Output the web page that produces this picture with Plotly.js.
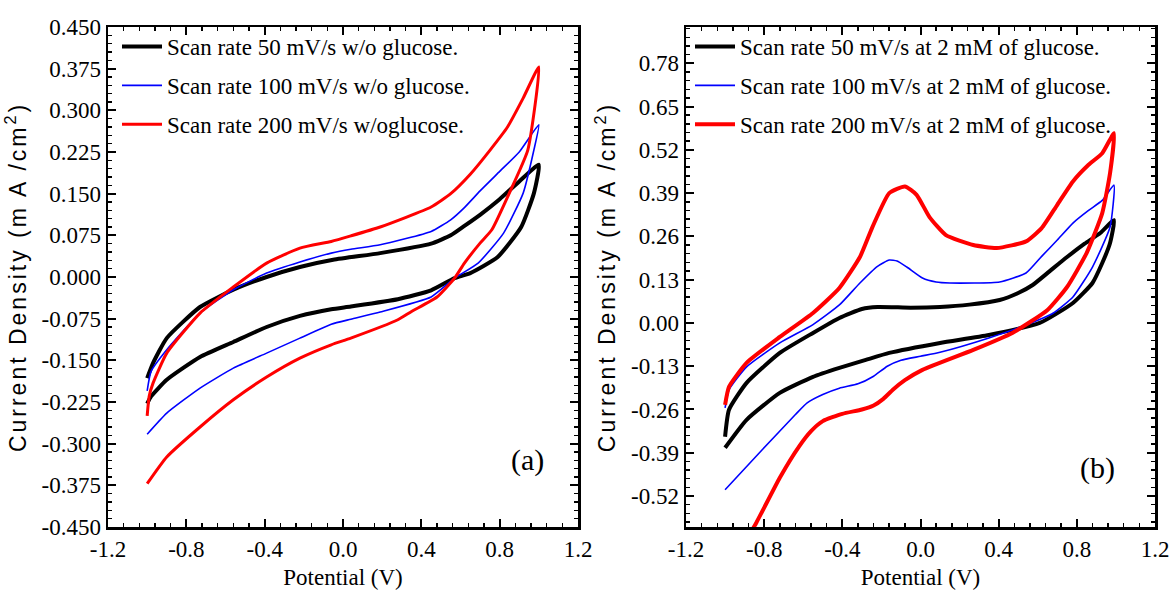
<!DOCTYPE html>
<html>
<head>
<meta charset="utf-8">
<script src="https://cdn.plot.ly/plotly-3.0.1.min.js"></script>
<style>html,body{margin:0;padding:0;background:#fff;}#chart{width:1171px;height:602px;}</style>
</head>
<body>
<div id="chart"></div>
<script>
// ---------- Panel (a): without glucose ----------
const vA50 = [-1.0,-0.97,-0.9,-0.73,-0.56,-0.39,-0.22,-0.05,0.19,0.45,0.55,0.62,0.7,0.8,0.9,1.0,
              0.975,0.91,0.79,0.65,0.57,0.45,0.28,0.04,-0.06,-0.22,-0.39,-0.56,-0.73,-0.9,-0.98,-1.0];
const iA50 = [-0.182,-0.155,-0.11,-0.054,-0.023,0.0,0.018,0.031,0.043,0.060,0.075,0.092,0.112,0.140,0.172,0.202,
              0.151,0.090,0.036,0.007,-0.002,-0.024,-0.040,-0.053,-0.058,-0.070,-0.090,-0.117,-0.144,-0.185,-0.215,-0.228];

const vA100 = [-1.0,-0.98,-0.9,-0.73,-0.56,-0.39,-0.22,-0.06,0.04,0.19,0.45,0.55,0.62,0.7,0.8,0.9,1.0,
               0.975,0.92,0.82,0.69,0.57,0.45,0.19,0.04,-0.06,-0.22,-0.39,-0.56,-0.73,-0.9,-1.0];
const iA100 = [-0.205,-0.17,-0.131,-0.065,-0.023,0.007,0.027,0.043,0.050,0.058,0.082,0.103,0.125,0.155,0.190,0.225,0.274,
               0.229,0.151,0.079,0.025,-0.002,-0.036,-0.063,-0.076,-0.085,-0.110,-0.137,-0.164,-0.200,-0.245,-0.283];

const vA200 = [-1.0,-0.99,-0.97,-0.9,-0.73,-0.56,-0.39,-0.22,-0.06,0.04,0.19,0.45,0.55,0.65,0.75,0.84,0.92,1.0,
               0.944,0.857,0.76,0.70,0.62,0.57,0.48,0.35,0.28,0.04,-0.06,-0.22,-0.39,-0.56,-0.73,-0.9,-1.0];
const iA200 = [-0.25,-0.215,-0.191,-0.137,-0.065,-0.018,0.025,0.052,0.064,0.074,0.090,0.126,0.150,0.185,0.228,0.270,0.322,0.378,
               0.229,0.157,0.085,0.061,0.025,-0.002,-0.036,-0.062,-0.077,-0.110,-0.122,-0.146,-0.180,-0.221,-0.270,-0.324,-0.372];

// ---------- Panel (b): 2 mM glucose ----------
const vB50 = [-1.0,-0.98,-0.89,-0.72,-0.55,-0.415,-0.3,-0.22,-0.05,0.1,0.25,0.405,0.5,0.574,0.66,0.75,0.84,0.92,0.99,
              0.97,0.93,0.88,0.78,0.61,0.35,0.10,-0.16,-0.28,-0.415,-0.55,-0.72,-0.89,-1.0];
const iB50 = [-0.342,-0.261,-0.180,-0.090,-0.030,0.015,0.042,0.048,0.046,0.048,0.055,0.069,0.090,0.114,0.155,0.198,0.238,0.270,0.309,
              0.240,0.180,0.120,0.060,0.0,-0.036,-0.060,-0.090,-0.111,-0.135,-0.162,-0.210,-0.291,-0.375];

const vB100 = [-1.0,-0.98,-0.89,-0.72,-0.55,-0.415,-0.31,-0.22,-0.16,-0.12,-0.07,0.01,0.08,0.15,0.405,0.54,0.62,0.70,0.78,0.86,0.93,0.99,
               0.97,0.88,0.78,0.68,0.54,0.35,0.10,0.0,-0.1,-0.17,-0.24,-0.32,-0.415,-0.5,-0.58,-0.64,-0.81,-1.0];
const iB100 = [-0.255,-0.201,-0.132,-0.060,-0.005,0.054,0.120,0.170,0.189,0.186,0.168,0.135,0.123,0.120,0.123,0.150,0.200,0.249,0.300,0.338,0.368,0.414,
               0.288,0.168,0.078,0.030,-0.006,-0.045,-0.088,-0.100,-0.112,-0.130,-0.160,-0.183,-0.196,-0.215,-0.240,-0.275,-0.381,-0.501];

const vB200 = [-1.0,-0.98,-0.89,-0.72,-0.55,-0.415,-0.31,-0.246,-0.16,-0.08,-0.02,0.046,0.13,0.27,0.39,0.54,0.62,0.70,0.78,0.86,0.93,0.99,
               0.97,0.93,0.85,0.75,0.65,0.47,0.27,0.01,-0.08,-0.14,-0.19,-0.24,-0.30,-0.40,-0.50,-0.56,-0.62,-0.72,-0.84,-0.9];
const iB200 = [-0.246,-0.192,-0.120,-0.042,0.030,0.105,0.198,0.288,0.390,0.410,0.385,0.318,0.264,0.234,0.225,0.245,0.285,0.355,0.425,0.475,0.510,0.570,
               0.450,0.330,0.210,0.108,0.039,-0.030,-0.081,-0.141,-0.172,-0.200,-0.228,-0.248,-0.260,-0.273,-0.295,-0.325,-0.370,-0.465,-0.600,-0.660];

// ---------- Tick labels ----------
const xTickVals = [-1.2,-0.8,-0.4,0.0,0.4,0.8,1.2];
const xTickText = ['-1.2','-0.8','-0.4','0.0','0.4','0.8','1.2'];
const yATickVals = [-0.45,-0.375,-0.3,-0.225,-0.15,-0.075,0,0.075,0.15,0.225,0.3,0.375,0.45];
const yATickText = ['-0.450','-0.375','-0.300','-0.225','-0.150','-0.075','0.000','0.075','0.150','0.225','0.300','0.375','0.450'];
const yBTickVals = [-0.52,-0.39,-0.26,-0.13,0,0.13,0.26,0.39,0.52,0.65,0.78];
const yBTickText = ['-0.52','-0.39','-0.26','-0.13','0.00','0.13','0.26','0.39','0.52','0.65','0.78'];

const namesA = ['Scan rate 50 mV/s w/o glucose.','Scan rate 100 mV/s w/o glucose.','Scan rate 200 mV/s w/oglucose.'];
const namesB = ['Scan rate 50 mV/s at 2 mM of glucose.','Scan rate 100 mV/s at 2 mM of glucose.','Scan rate 200 mV/s at 2 mM of glucose.'];
const colors = ['#000000','#0000ff','#ff0000'];

const W = 1171, H = 602;
const serif = 'Liberation Serif';
const sans = 'Liberation Sans';

function tr(v, i, name, color, width, xa, ya, leg, grp) {
  return {x: v, y: i, name: name, type: 'scatter', mode: 'lines',
          line: {color: color, width: width, shape: 'spline', smoothing: 0.5},
          xaxis: xa, yaxis: ya, legend: leg, legendgroup: grp};
}

const data = [
  tr(vA50, iA50, namesA[0], colors[0], 4, 'x', 'y', 'legend', 'a1'),
  tr(vA100, iA100, namesA[1], colors[1], 1.6, 'x', 'y', 'legend', 'a2'),
  tr(vA200, iA200, namesA[2], colors[2], 3, 'x', 'y', 'legend', 'a3'),
  tr(vB50, iB50, namesB[0], colors[0], 4, 'x2', 'y2', 'legend2', 'b1'),
  tr(vB100, iB100, namesB[1], colors[1], 1.6, 'x2', 'y2', 'legend2', 'b2'),
  tr(vB200, iB200, namesB[2], colors[2], 4, 'x2', 'y2', 'legend2', 'b3')
];

function xAxis(domain, anchor) {
  return {domain: domain, anchor: anchor, range: [-1.2, 1.2], tickmode: 'array',
    tickvals: xTickVals, ticktext: xTickText, ticks: 'inside', ticklen: 8, tickwidth: 2,
    tickcolor: '#000', mirror: 'allticks', showline: true, linewidth: 2.5, linecolor: '#000',
    showgrid: false, zeroline: false,
    tickfont: {family: serif, size: 23, color: '#000'},
    minor: {tickmode: 'linear', tick0: -1.2, dtick: 0.08, ticks: 'inside', ticklen: 4, tickwidth: 1.5, tickcolor: '#000', showgrid: false},
    title: {text: 'Potential (V)', font: {family: serif, size: 23, color: '#000'}, standoff: 8}};
}
function yAxis(domain, anchor, range, vals, text, mdt) {
  return {domain: domain, anchor: anchor, range: range, tickmode: 'array',
    tickvals: vals, ticktext: text, ticks: 'inside', ticklen: 8, tickwidth: 2,
    tickcolor: '#000', mirror: 'allticks', showline: true, linewidth: 2.5, linecolor: '#000',
    showgrid: false, zeroline: false,
    tickfont: {family: serif, size: 23, color: '#000'},
    minor: {tickmode: 'linear', tick0: 0, dtick: mdt, ticks: 'inside', ticklen: 4, tickwidth: 1.5, tickcolor: '#000', showgrid: false},
    title: {text: 'Current Density (m A /cm<sup>2</sup>)', font: {family: sans, size: 23, color: '#000'}, standoff: 9}};
}

const yDom = [75 / H, 575 / H];
const layout = {
  width: W, height: H,
  margin: {l: 0, r: 0, t: 0, b: 0},
  font: {family: serif, size: 23, color: '#000'},
  paper_bgcolor: '#fff', plot_bgcolor: '#fff',
  showlegend: true,
  xaxis: xAxis([108 / W, 578 / W], 'y'),
  yaxis: yAxis(yDom, 'x', [-0.45, 0.45], yATickVals, yATickText, 0.015),
  xaxis2: xAxis([686 / W, 1155 / W], 'y2'),
  yaxis2: yAxis(yDom, 'x2', [-0.613, 0.889], yBTickVals, yBTickText, 0.026),
  legend: {x: 117 / W, y: 1 - 25 / H, xanchor: 'left', yanchor: 'top', bgcolor: 'rgba(0,0,0,0)',
    font: {family: serif, size: 23, color: '#000'}, traceorder: 'grouped', tracegroupgap: 6, itemwidth: 40},
  legend2: {x: 690 / W, y: 1 - 25 / H, xanchor: 'left', yanchor: 'top', bgcolor: 'rgba(0,0,0,0)',
    font: {family: serif, size: 23, color: '#000'}, traceorder: 'grouped', tracegroupgap: 6, itemwidth: 40},
  annotations: [
    {text: '(a)', xref: 'x', yref: 'y', x: 0.94, y: -0.33, showarrow: false,
     font: {family: serif, size: 30, color: '#000'}},
    {text: '(b)', xref: 'x2', yref: 'y2', x: 0.905, y: -0.435, showarrow: false,
     font: {family: serif, size: 30, color: '#000'}}
  ]
};

Plotly.newPlot('chart', data, layout, {displayModeBar: false, staticPlot: true}).then(function (gd) {
  gd.querySelectorAll('.xtick text, .x2tick text, .ytick text, .y2tick text, .xtitle, .x2title').forEach(function (t) {
    t.style.fontFamily = "'Liberation Serif', 'Times New Roman', serif";
  });
  gd.querySelectorAll('.ytitle, .y2title').forEach(function (t) { t.style.letterSpacing = '3px'; });
});
</script>
</body>
</html>
